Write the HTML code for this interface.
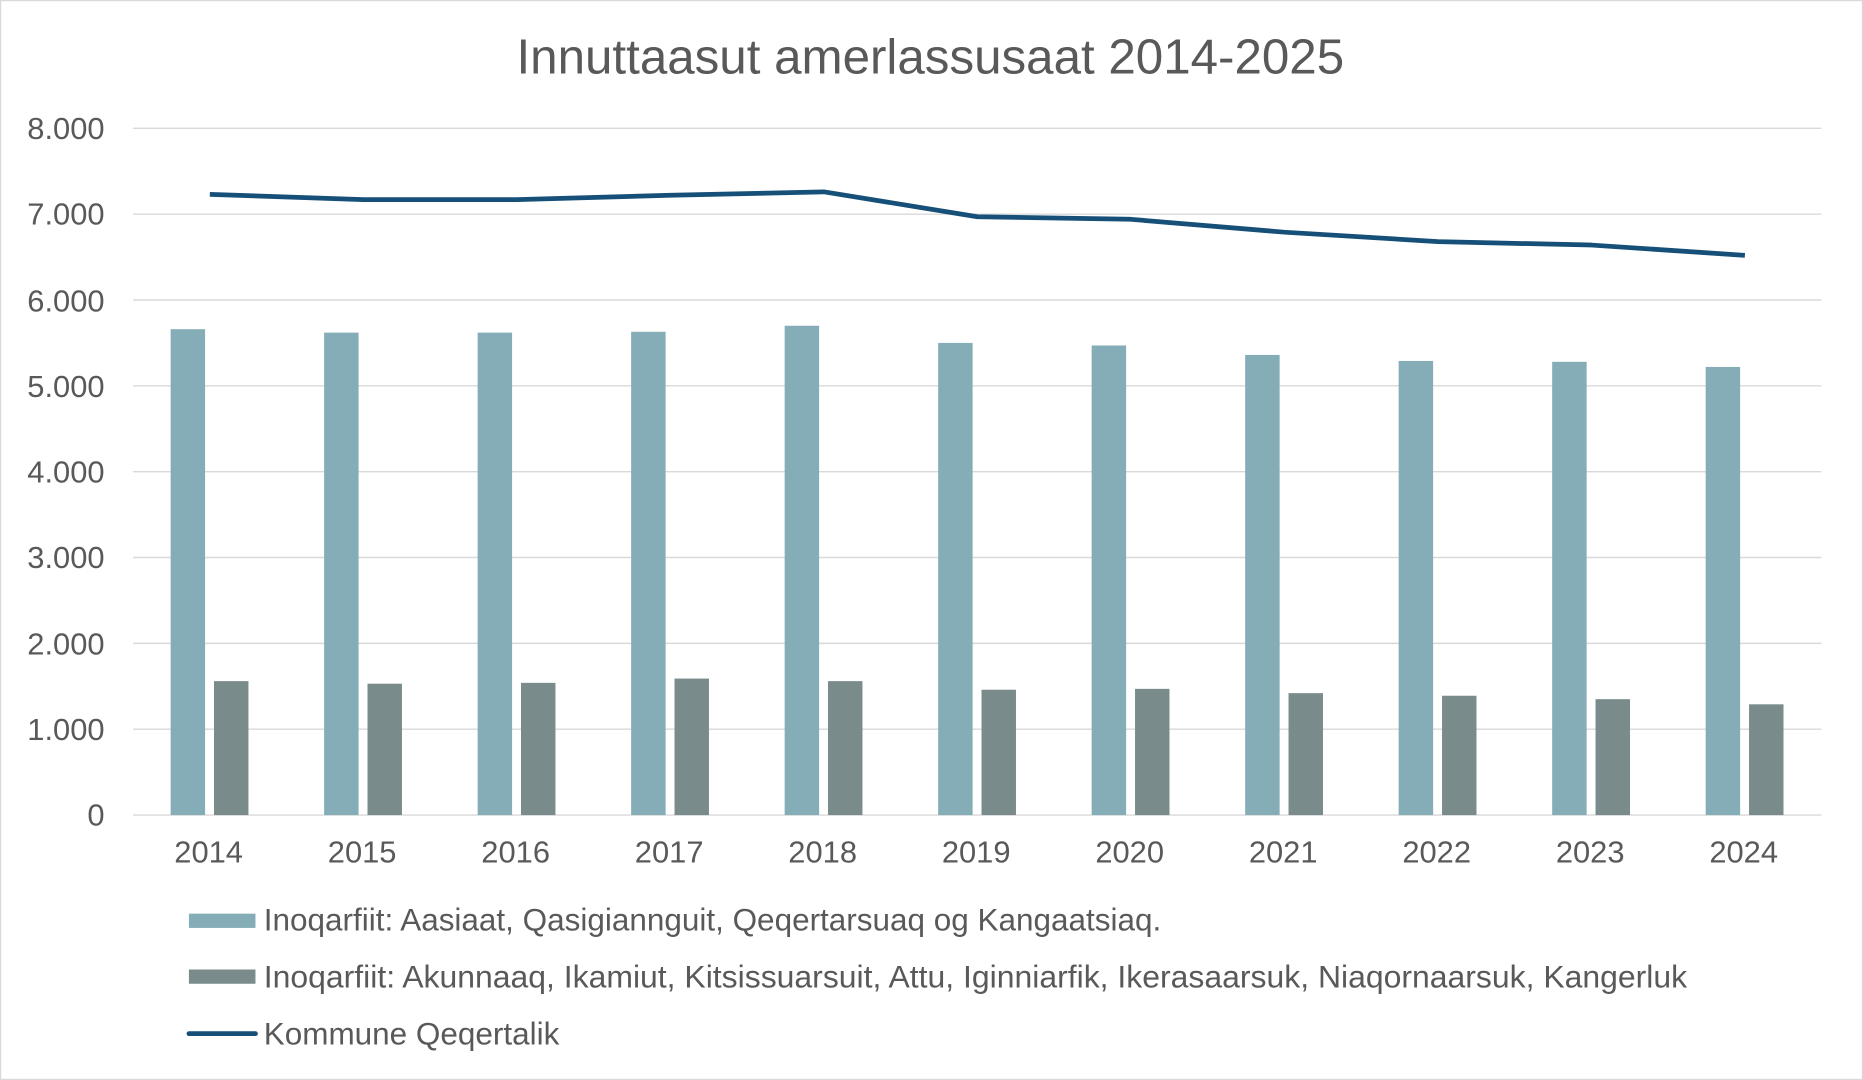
<!DOCTYPE html>
<html><head><meta charset="utf-8"><style>
html,body{margin:0;padding:0;background:#fff;}
svg{display:block;}
text{font-family:"Liberation Sans",Arial,sans-serif;fill:#595959;}
</style></head><body>
<svg width="1863" height="1080" viewBox="0 0 1568 909" xmlns="http://www.w3.org/2000/svg">
<rect x="0.5" y="0.5" width="1567" height="908" fill="#fff" stroke="#d9d9d9" stroke-width="1"/>
<text x="783" y="62" font-size="41.5" text-anchor="middle">Innuttaasut amerlassusaat 2014-2025</text>
<g stroke="#d9d9d9" stroke-width="1.2">
<line x1="112" x2="1533" y1="108" y2="108"/><line x1="112" x2="1533" y1="180.25" y2="180.25"/>
<line x1="112" x2="1533" y1="252.5" y2="252.5"/><line x1="112" x2="1533" y1="324.75" y2="324.75"/>
<line x1="112" x2="1533" y1="397" y2="397"/><line x1="112" x2="1533" y1="469.25" y2="469.25"/>
<line x1="112" x2="1533" y1="541.5" y2="541.5"/><line x1="112" x2="1533" y1="613.75" y2="613.75"/>
<line x1="112" x2="1533" y1="686" y2="686"/>
</g>
<g font-size="26" text-anchor="end">
<text x="88" y="117">8.000</text><text x="88" y="189">7.000</text><text x="88" y="262">6.000</text>
<text x="88" y="334">5.000</text><text x="88" y="406">4.000</text><text x="88" y="478">3.000</text>
<text x="88" y="551">2.000</text><text x="88" y="623">1.000</text><text x="88" y="695">0</text>
</g>
<g id="bars"></g>
<script>
var L=[5660,5620,5620,5630,5700,5500,5470,5360,5290,5280,5220];
var D=[1560,1530,1540,1590,1560,1460,1470,1420,1390,1350,1290];
var T=[7230,7170,7170,7220,7260,6970,6940,6790,6680,6640,6520];
var ns="http://www.w3.org/2000/svg",g=document.getElementById("bars");
function y(v){return 686-v*0.07225;}
function el(t,a){var e=document.createElementNS(ns,t);for(var k in a)e.setAttribute(k,a[k]);return e;}
var pts=[];
for(var i=0;i<11;i++){
 var c=112+129.2*(i+0.5);
 g.appendChild(el("rect",{x:c-33,y:y(L[i]),width:29,height:686-y(L[i]),fill:"#84ADB7"}));
 g.appendChild(el("rect",{x:c+3.5,y:y(D[i]),width:29,height:686-y(D[i]),fill:"#7A8B8C"}));
 var t=el("text",{x:c-1,y:726,"font-size":26,"text-anchor":"middle"});t.textContent=2014+i;g.appendChild(t);
 pts.push(c+","+y(T[i]));
}
g.appendChild(el("polyline",{points:pts.join(" "),fill:"none",stroke:"#164F78","stroke-width":4,"stroke-linejoin":"round"}));
</script>
<rect x="159" y="769" width="56" height="12" fill="#84ADB7"/>
<text x="222" y="783" font-size="26.5">Inoqarfiit: Aasiaat, Qasigiannguit, Qeqertarsuaq og Kangaatsiaq.</text>
<rect x="159" y="816" width="56" height="12" fill="#7A8B8C"/>
<text x="222" y="831" font-size="26.5" textLength="1198" lengthAdjust="spacingAndGlyphs">Inoqarfiit: Akunnaaq, Ikamiut, Kitsissuarsuit, Attu, Iginniarfik, Ikerasaarsuk, Niaqornaarsuk, Kangerluk</text>
<line x1="159" x2="215" y1="870" y2="870" stroke="#164F78" stroke-width="4" stroke-linecap="round"/>
<text x="222" y="879" font-size="26.5">Kommune Qeqertalik</text>
</svg>
</body></html>
